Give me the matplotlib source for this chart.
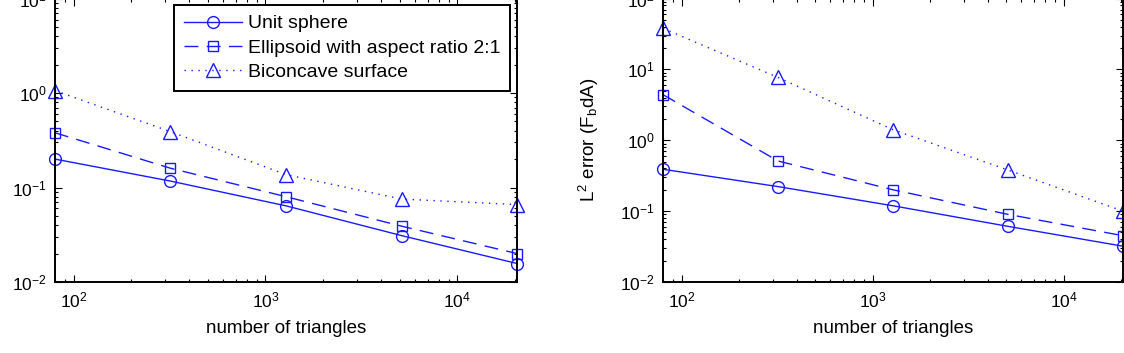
import matplotlib
matplotlib.use('Agg')
import matplotlib.pyplot as plt
from matplotlib.ticker import LogLocator, NullFormatter

plt.rcParams['font.family'] = ['Liberation Sans', 'DejaVu Sans']
plt.rcParams['mathtext.fontset'] = 'custom'
plt.rcParams['mathtext.rm'] = 'Liberation Sans'
plt.rcParams['mathtext.it'] = 'Liberation Sans'
plt.rcParams['mathtext.default'] = 'regular'

# =========================
# Data
# =========================
n_triangles = [80, 320, 1280, 5120, 20480]

# left panel: L2 error of area
area_sphere = [0.20, 0.117, 0.064, 0.031, 0.0157]
area_ellipsoid = [0.38, 0.16, 0.080, 0.039, 0.020]
area_biconcave = [1.06, 0.39, 0.137, 0.0755, 0.066]

# right panel: L2 error of F_b dA
force_sphere = [0.39, 0.222, 0.119, 0.061, 0.032]
force_ellipsoid = [4.4, 0.51, 0.20, 0.090, 0.045]
force_biconcave = [38.0, 7.7, 1.41, 0.38, 0.10]

labels = ['Unit sphere', 'Ellipsoid with aspect ratio 2:1', 'Biconcave surface']
ylabels = ['L$^2$ error (A)', 'L$^2$ error (F$_b$dA)']
xlabel = 'number of triangles'

col = '#1a1aff'
styles = [
    dict(ls='-', marker='o', ms=8.5),
    dict(ls=(0, (10, 6)), marker='s', ms=7.5),
    dict(ls=(0, (1, 4)), marker='^', ms=10),
]

fig = plt.figure(figsize=(11.24, 3.53), dpi=100)
ax1 = fig.add_axes([0.0489, 0.2011, 0.4111, 0.803])
ax2 = fig.add_axes([0.5899, 0.2011, 0.4093, 0.803])

panels = [
    (ax1, [area_sphere, area_ellipsoid, area_biconcave], (1e-2, 1e1)),
    (ax2, [force_sphere, force_ellipsoid, force_biconcave], (1e-2, 1e2)),
]

for i, (ax, series, ylim) in enumerate(panels):
    for vals, st, lab in zip(series, styles, labels):
        ax.plot(n_triangles, vals, color=col, lw=1.0, mfc='none', mec=col,
                mew=1.0, label=lab, clip_on=False, **st)
    ax.set_xscale('log')
    ax.set_yscale('log')
    ax.set_xlim(80, 20480)
    ax.set_ylim(*ylim)
    ax.xaxis.set_major_locator(LogLocator(base=10, numticks=10))
    ax.xaxis.set_minor_locator(LogLocator(base=10, subs=range(2, 10), numticks=10))
    ax.xaxis.set_minor_formatter(NullFormatter())
    ax.yaxis.set_minor_locator(LogLocator(base=10, subs=range(2, 10), numticks=10))
    ax.yaxis.set_minor_formatter(NullFormatter())
    ax.tick_params(which='both', direction='in', top=True, right=True,
                   labelsize=12.5, colors='black', width=0.8)
    ax.tick_params(which='major', length=5, pad=6)
    ax.tick_params(which='minor', length=2.5)
    for sp in ax.spines.values():
        sp.set_linewidth(1.4)
    ax.set_xlabel(xlabel, fontsize=13.5, labelpad=7)
    ax.set_ylabel(ylabels[i], fontsize=13.5)
    ax.yaxis.set_label_coords(-62 / 460, 0.5)

leg = ax1.legend(loc='upper right', bbox_to_anchor=(0.985, 0.977),
                 borderaxespad=0, fontsize=14, handlelength=3.0,
                 handletextpad=0.3, labelspacing=0.35, borderpad=0.5,
                 fancybox=False, framealpha=1, edgecolor='black')
leg.get_frame().set_linewidth(1.4)

plt.savefig('out.png', dpi=100)
plt.close()
